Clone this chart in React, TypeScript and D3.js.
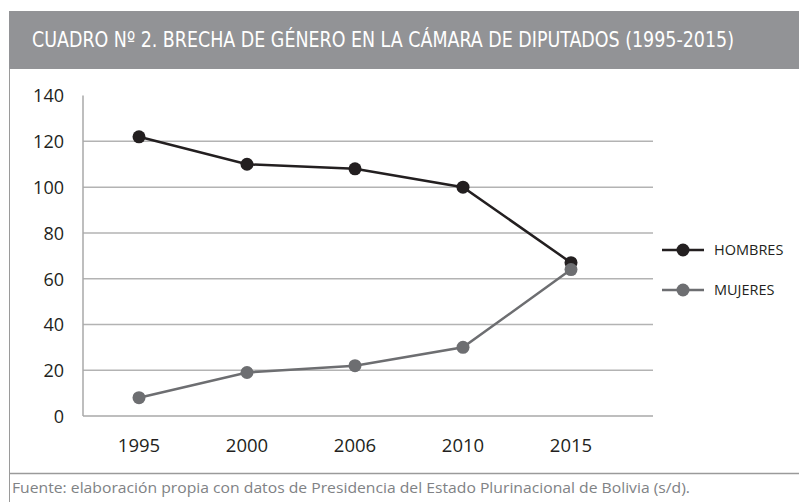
import * as d3 from 'd3';
import React from 'react';

const years = ['1995', '2000', '2006', '2010', '2015'];
const hombres = [122, 110, 108, 100, 67];
const mujeres = [8, 19, 22, 30, 64];
const yTicks = [0, 20, 40, 60, 80, 100, 120, 140];

const seriesNames = ['HOMBRES', 'MUJERES'];
const seriesColors = ['#231f20', '#6d6e71'];

const title = 'CUADRO Nº 2. BRECHA DE GÉNERO EN LA CÁMARA DE DIPUTADOS (1995-2015)';
const source = 'Fuente: elaboración propia con datos de Presidencia del Estado Plurinacional de Bolivia (s/d).';

const width = 799;
const height = 502;
const plot = { left: 83, right: 653, top: 95.6, bottom: 416 };

export default function App() {
  const x = d3.scalePoint<string>().domain(years).range([139, 571]);
  const y = d3.scaleLinear().domain([0, 140]).range([plot.bottom, plot.top]);

  const line = d3
    .line<number>()
    .x((_, i) => x(years[i]) as number)
    .y((d) => y(d));

  const series = [hombres, mujeres];
  const tickFont = '"Open Sans", "Noto Sans", sans-serif';

  return (
    <svg
      width={width}
      height={height}
      viewBox={`0 0 ${width} ${height}`}
      style={{ position: 'absolute', left: 0, top: 0 }}
    >
      <rect x={0} y={0} width={width} height={height} fill="#fff" />
      {/* header */}
      <rect x={9} y={11} width={width - 9} height={58} fill="#929396" />
      <text
        x={32}
        y={47}
        fill="#fff"
        fontFamily='"DejaVu Sans Condensed", sans-serif'
        fontSize={21}
        textLength={702}
        lengthAdjust="spacingAndGlyphs"
      >
        {title}
      </text>
      {/* frame */}
      <line x1={9.5} x2={9.5} y1={69} y2={height} stroke="#9a9a9a" strokeWidth={1} />
      <line x1={9} x2={width} y1={473.5} y2={473.5} stroke="#9a9a9a" strokeWidth={1.5} />

      {/* grid */}
      {yTicks
        .filter((t) => t > 0 && t < 140)
        .map((t) => (
          <line key={t} x1={plot.left} x2={plot.right} y1={y(t)} y2={y(t)} stroke="#b3b3b3" strokeWidth={1.5} />
        ))}
      <line x1={plot.left} x2={plot.right} y1={y(0)} y2={y(0)} stroke="#a8a8a8" strokeWidth={1.5} />
      <line x1={plot.left} x2={plot.left} y1={y(140)} y2={y(0)} stroke="#a8a8a8" strokeWidth={1.5} />

      {/* y ticks */}
      {yTicks.map((t) => (
        <text key={t} x={64} y={y(t)} dy="0.38em" textAnchor="end" fontFamily={tickFont} fontSize={18} fill="#231f20">
          {t}
        </text>
      ))}
      {/* x ticks */}
      {years.map((yr) => (
        <text key={yr} x={x(yr)} y={452} textAnchor="middle" fontFamily={tickFont} fontSize={18.5} fill="#231f20">
          {yr}
        </text>
      ))}

      {/* lines */}
      {series.map((s, si) => (
        <g key={si}>
          <path d={line(s) || ''} fill="none" stroke={seriesColors[si]} strokeWidth={2.5} />
          {s.map((v, i) => (
            <circle key={i} cx={x(years[i])} cy={y(v)} r={6.5} fill={seriesColors[si]} />
          ))}
        </g>
      ))}

      {/* legend */}
      {seriesNames.map((n, i) => (
        <g key={n} transform={`translate(0,${250 + i * 40})`}>
          <line x1={662} x2={704} y1={0} y2={0} stroke={seriesColors[i]} strokeWidth={2.5} />
          <circle cx={683} cy={0} r={6.5} fill={seriesColors[i]} />
          <text x={714} y={0} dy="0.36em" fontFamily={tickFont} fontSize={14.5} fill="#231f20">
            {n}
          </text>
        </g>
      ))}

      {/* source */}
      <text
        x={12}
        y={493}
        fontFamily={tickFont}
        fontSize={15}
        fill="#808285"
        textLength={678}
        lengthAdjust="spacingAndGlyphs"
      >
        {source}
      </text>
    </svg>
  );
}
